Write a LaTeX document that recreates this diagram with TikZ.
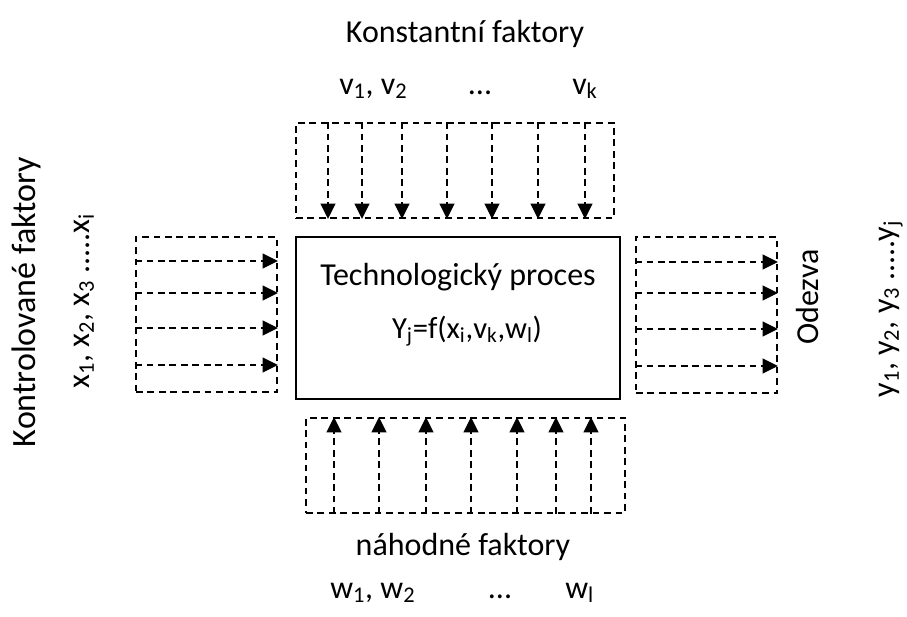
\documentclass[tikz,border=0pt]{standalone}
\usepackage{fontspec}
\setmainfont{Carlito}
\usetikzlibrary{arrows.meta,fit}
\begin{document}
\begin{tikzpicture}[x=0.75pt,y=-0.75pt,
  dbox/.style={draw, line width=1.4pt, dash pattern=on 5pt off 3.6pt, inner sep=0pt},
  darr/.style={draw, line width=1.4pt, dash pattern=on 5pt off 3.6pt, -{Triangle[length=11.5pt,width=11pt]}},
  pbox/.style={draw, line width=1.1pt, inner sep=0pt},
  lbl/.style={font=\fontsize{24}{28}\selectfont, inner sep=0pt, anchor=base},
  lblw/.style={lbl, anchor=base west},
  lblr/.style={lbl, rotate=90, font=\fontsize{25.5}{30}\selectfont}]
\useasboundingbox (0,0) rectangle (907,617);
% boxes
\node[pbox, fit={(296,237)(620,399)}] (proc) {};
\node[dbox, fit={(296,123)(614,218)}] (topb) {};
\node[dbox, fit={(136,237)(277,392)}] (leftb) {};
\node[dbox, fit={(636,237)(777,393)}] (rightb) {};
\node[dbox, fit={(306,418)(625,513)}] (botb) {};
% arrows top
\foreach \x [count=\i] in {328,362,402,447,492,538,585} {
  \coordinate (tx\i) at (\x,0);
  \draw[darr] (topb.north -| tx\i) -- (topb.south -| tx\i);
}
% arrows bottom
\foreach \x [count=\i] in {334,379,426,471,517,556,591} {
  \coordinate (bx\i) at (\x,0);
  \draw[darr] (botb.south -| bx\i) -- (botb.north -| bx\i);
}
% arrows left
\foreach \y [count=\i] in {261,293,328,365} {
  \coordinate (ly\i) at (0,\y);
  \draw[darr] (leftb.west |- ly\i) -- (leftb.east |- ly\i);
}
% arrows right
\foreach \y [count=\i] in {262,293,329,366} {
  \coordinate (ry\i) at (0,\y);
  \draw[darr] (rightb.west |- ry\i) -- (rightb.east |- ry\i);
}
% texts
\node[lbl] (konst) at (465,43) {Konstantní faktory};
\node[lblw] (v12) at (339,94) {v\textsubscript{1}, v\textsubscript{2}};
\node[lbl] (vdots) at (480,94) {...};
\node[lblw] (vk) at (572,94) {v\textsubscript{k}};
\node[lbl] (tech) at (458,285) {Technologický proces};
\node[lbl, font=\fontsize{23}{27}\selectfont] (func) at (467,338) {Y\textsubscript{j}=f(x\textsubscript{i},v\textsubscript{k},w\textsubscript{l})};
\node[lbl] (nah) at (463,555) {náhodné faktory};
\node[lblw] (w12) at (330,598) {w\textsubscript{1}, w\textsubscript{2}};
\node[lbl] (wdots) at (500,598) {...};
\node[lblw] (wl) at (565,598) {w\textsubscript{l}};
\node[lblr] (kontr) at (35,302) {Kontrolované faktory};
\node[lbl, rotate=90] (xs) at (89,301) {x\textsubscript{1}, x\textsubscript{2}, x\textsubscript{3} .....x\textsubscript{i}};
\node[lbl, rotate=90] (odez) at (818,297) {Odezva};
\node[lbl, rotate=90] (ys) at (894,309) {y\textsubscript{1}, y\textsubscript{2}, y\textsubscript{3} .....y\textsubscript{j}};
\end{tikzpicture}
\end{document}
